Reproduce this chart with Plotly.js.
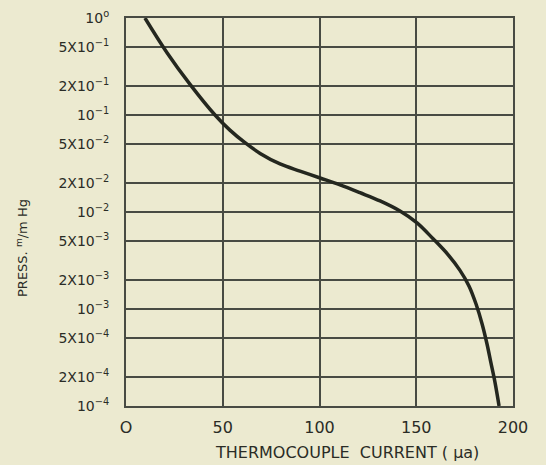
<!DOCTYPE html>
<html>
<head>
<meta charset="utf-8">
<script src="https://cdn.plot.ly/plotly-3.0.1.min.js"></script>
<style>html,body{margin:0;padding:0;background:#ecead0;}</style>
</head>
<body>
<div id="chart" style="width:546px;height:465px;"></div>
<script>
// Thermocouple current (µa) vs pressure (mm Hg)
const current = [9.8, 21.2, 33.1, 46.0, 53.7, 61.5, 69.3, 79.6, 89.9, 100.3, 110.6, 120.9, 131.3, 141.6, 150.4, 158.7, 166.4, 172.6, 177.3, 180.9, 184.0, 186.6, 188.6, 190.7, 192.8];
const pressure = [1.0, 0.439, 0.207, 0.1, 0.0698, 0.0518, 0.0402, 0.0313, 0.0264, 0.0224, 0.0190, 0.0158, 0.0130, 0.01023, 0.00772, 0.0053, 0.00364, 0.0025, 0.00172, 0.001125, 0.000705, 0.000433, 0.000278, 0.000175, 0.0001];

const yTickVals = [1, 0.5, 0.2, 0.1, 0.05, 0.02, 0.01, 0.005, 0.002, 0.001, 5e-4, 2e-4, 1e-4];
const yTickText = ["10<sup>o</sup>", "5X10<sup>−1</sup>", "2X10<sup>−1</sup>", "10<sup>−1</sup>",
  "5X10<sup>−2</sup>", "2X10<sup>−2</sup>", "10<sup>−2</sup>",
  "5X10<sup>−3</sup>", "2X10<sup>−3</sup>", "10<sup>−3</sup>",
  "5X10<sup>−4</sup>", "2X10<sup>−4</sup>", "10<sup>−4</sup>"];
const xTickVals = [0, 50, 100, 150, 200];
const xTickText = ["O", "50", "100", "150", "200"];

const ink = "#484b43";
const txt = "#2a2c26";
const fam = "DejaVu Sans, sans-serif";

const trace = {
  x: current, y: pressure, type: "scatter", mode: "lines",
  line: {color: "#24271f", width: 3.5, shape: "spline", smoothing: 1},
  hoverinfo: "skip", showlegend: false
};

const layout = {
  width: 546, height: 465,
  margin: {l: 126, r: 33, t: 18, b: 59},
  paper_bgcolor: "#ecead0", plot_bgcolor: "#ecead0",
  font: {family: fam, size: 12, color: txt},
  xaxis: {
    range: [0, 200], tickvals: xTickVals, ticktext: xTickText,
    showgrid: true, gridcolor: ink, gridwidth: 2,
    showline: true, linecolor: ink, linewidth: 2, mirror: true,
    zeroline: false, ticks: "", ticklabelstandoff: 6,
    tickfont: {family: fam, size: 16, color: txt}
  },
  yaxis: {
    type: "log", range: [-4, 0], tickvals: yTickVals, ticktext: yTickText,
    showgrid: true, gridcolor: ink, gridwidth: 1.8,
    showline: true, linecolor: ink, linewidth: 2, mirror: true,
    zeroline: false, ticks: "", ticklabelstandoff: 12,
    tickfont: {family: fam, size: 14, color: txt}
  },
  annotations: [{
    text: "PRESS. <sup>m</sup>/m Hg", xref: "paper", yref: "paper",
    x: -0.269, y: 0.407, xanchor: "center", yanchor: "middle",
    textangle: -90, showarrow: false,
    font: {family: fam, size: 13, color: txt}
  }, {
    text: "THERMOCOUPLE  CURRENT ( μa)", xref: "paper", yref: "paper",
    x: 0.571, y: -0.121, xanchor: "center", yanchor: "middle",
    showarrow: false,
    font: {family: fam, size: 16, color: txt}
  }]
};

Plotly.newPlot("chart", [trace], layout, {displayModeBar: false, staticPlot: true});
</script>
</body>
</html>
